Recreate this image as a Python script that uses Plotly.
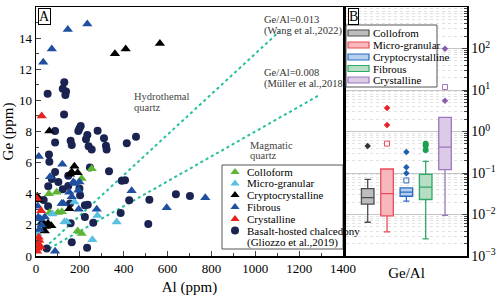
import plotly.graph_objects as go

FONT = "Liberation Serif"

# ---------------- Panel A data: Al (ppm) vs Ge (ppm) ----------------
colloform_al = [33, 254, 208, 59, 94, 63, 100, 118, 190, 208]
colloform_ge = [15.0, 5.6, 4.98, 4.0, 4.1, 2.8, 2.8, 2.85, 1.6, 1.45]

micro_al = [175, 140, 280, 368, 257, 6, 75, 130, 20]
micro_ge = [3.47, 2.18, 2.6, 2.18, 1.05, 1.45, 2.7, 2.2, 2.1]

crypto_al = [360, 409, 565, 61, 175, 163, 190, 155, 6, 10, 152, 30, 45, 55, 70, 40]
crypto_ge = [13.0, 13.3, 13.65, 8.03, 5.77, 5.4, 5.35, 5.25, 3.84, 3.6, 3.04, 2.2, 1.9, 2.1, 1.95, 1.6]

fibrous_al = [145, 234, 72, 33, 13, 120, 64, 170, 198, 178, 152, 193, 163, 436, 125, 117,
              277, 596, 772, 87, 10, 20, 25, 15, 40, 8, 195]
fibrous_ge = [14.55, 14.9, 13.3, 12.45, 6.4, 5.9, 5.1, 4.76, 4.76, 4.66, 4.1, 4.23, 3.8, 4.2, 3.37, 3.37,
              3.0, 3.1, 3.75, 0.3, 2.5, 2.4, 2.0, 1.7, 2.5, 3.2, 3.0]

crystalline_al = [26, 23, 3, 8, 10, 15, 5, 20, 12]
crystalline_ge = [9.0, 2.9, 3.7, 0.5, 0.8, 1.0, 0.3, 0.6, 1.2]

basalt_al = [53, 129, 122, 137, 134, 128, 87, 87, 204, 198, 193, 234, 228, 281, 158, 163, 240, 254,
             310, 319, 322, 414, 456, 59, 61, 246, 333, 87, 147, 72, 102, 147, 56, 198, 201, 122,
             391, 406, 425, 517, 638, 702, 155, 223, 236, 158, 223, 261, 386, 512, 163, 233, 49, 35, 55]
basalt_ge = [10.42, 11.17, 10.74, 10.57, 10.35, 9.1, 8.03, 7.3, 8.35, 8.2, 8.03, 7.77, 7.5, 8.05, 7.4, 7.13, 7.06, 6.85,
             7.56, 7.08, 6.85, 7.24, 7.67, 6.53, 6.05, 5.69, 5.45, 5.4, 5.15, 4.94, 4.76, 4.5, 4.48, 4.33, 3.9, 4.29,
             4.83, 4.87, 3.58, 3.62, 3.97, 3.86, 3.37, 3.26, 3.3, 2.1, 2.5, 2.14, 2.76, 2.05, 0.89, 0.53, 0.48, 3.6, 3.2]

# reference Ge/Al ratio lines
ratio_vals = [0.013, 0.008]
ratio_start_al = [40, 60]
ratio_end_al = [1110, 1290]

# ---------------- Panel B data: Ge/Al box statistics ----------------
box_names = ["Collofrom", "Micro-granular", "Cryptocrystalline", "Fibrous", "Crystalline"]
box_q1 = [0.0178, 0.0093, 0.0275, 0.023, 0.12]
box_median = [0.0254, 0.032, 0.0345, 0.0457, 0.42]
box_q3 = [0.042, 0.125, 0.044, 0.093, 2.2]
box_low = [0.0065, 0.0038, 0.021, 0.0026, 0.0095]
box_high = [0.070, 0.125, 0.044, 0.19, 2.2]
box_mean = [None, 0.51, 0.066, None, 11.8]
box_outliers = [[0.45], [3.7, 1.43], [0.32, 0.137, 0.098], [0.51, 0.46, 0.356], [98, 5.5]]

log_tick_vals = [1e-3, 1e-2, 1e-1, 1, 10, 100, 1000]
log_tick_text = ["10<sup>\u22123</sup>", "10<sup>\u22122</sup>", "10<sup>\u22121</sup>",
                 "10<sup>0</sup>", "10<sup>1</sup>", "10<sup>2</sup>", "10<sup>3</sup>"]
log_minor_vals = [m * d for d in [1e-3, 1e-2, 1e-1, 1, 10, 100] for m in range(2, 10)]

# styles
series_cols = {"Colloform": "#5db536", "Micro-granular": "#5bbfe2", "Cryptocrystalline": "#000000",
               "Fibrous": "#1f4fa0", "Crystalline": "#e8221c"}
navy = "#1b2451"
box_fill = ['#bdbdbd', '#f7b8bd', '#b5cfee', '#b5dec5', '#dccbe6']
box_line = ['#4d4d4d', '#ec4b57', '#2a6bc4', '#2eaa66', '#9b77be']
out_col = ['#333333', '#e8202a', '#1f5fb0', '#1aa050', '#8a5cb0']

# layout geometry (pixels)
W, H = 498, 299
ML, MR, MT, MB = 36, 31, 7, 43
PW, PH = W - ML - MR, H - MT - MB
A_RIGHT = 343  # right edge of panel A in px


def px(xp):
    return (xp - ML) / PW


def py(yp):
    return (H - MB - yp) / PH


def a_x(xp):  # pixel -> Al data units of panel A
    return (xp - ML) / (A_RIGHT - ML) * 1400


def a_y(yp):  # pixel -> Ge data units of panel A
    return (H - MB - yp) / PH * 16


fig = go.Figure()

# ratio lines
for r, a0, a1 in zip(ratio_vals, ratio_start_al, ratio_end_al):
    fig.add_trace(go.Scatter(x=[a0, a1], y=[r * a0, r * a1], mode='lines',
                             line=dict(color='#27bfa0', width=2, dash='dot'),
                             xaxis='x', yaxis='y', showlegend=False, hoverinfo='skip'))

fig.add_trace(go.Scatter(x=basalt_al, y=basalt_ge, mode='markers', name='Basalt-hosted chalcedony',
                         marker=dict(symbol='circle', size=8, color=navy), xaxis='x', yaxis='y',
                         showlegend=False))
for name, xs, ys in [("Colloform", colloform_al, colloform_ge),
                     ("Micro-granular", micro_al, micro_ge),
                     ("Cryptocrystalline", crypto_al, crypto_ge),
                     ("Fibrous", fibrous_al, fibrous_ge),
                     ("Crystalline", crystalline_al, crystalline_ge)]:
    fig.add_trace(go.Scatter(x=xs, y=ys, mode='markers', name=name,
                             marker=dict(symbol='triangle-up', size=9, color=series_cols[name]),
                             xaxis='x', yaxis='y', showlegend=False))

# Panel B boxes
for i, nm in enumerate(box_names):
    fig.add_trace(go.Box(x=[i + 1], q1=[box_q1[i]], median=[box_median[i]], q3=[box_q3[i]],
                         lowerfence=[box_low[i]], upperfence=[box_high[i]], name=nm,
                         width=0.65, whiskerwidth=0.5, fillcolor=box_fill[i],
                         line=dict(color=box_line[i], width=1.3),
                         xaxis='x2', yaxis='y2', showlegend=False))
    outs = box_outliers[i]
    fig.add_trace(go.Scatter(x=[i + 1] * len(outs), y=outs, mode='markers',
                             marker=dict(symbol='diamond' if i != 3 else 'circle',
                                         size=5 if i != 3 else 6, color=out_col[i]),
                             xaxis='x2', yaxis='y2', showlegend=False))
    if box_mean[i] is not None:
        fig.add_trace(go.Scatter(x=[i + 1], y=[box_mean[i]], mode='markers',
                                 marker=dict(symbol='square-open', size=5, color=box_line[i]),
                                 xaxis='x2', yaxis='y2', showlegend=False))

# ---------------- manual legend for panel A ----------------
leg_a_names = ["Colloform", "Micro-granular", "Cryptocrystalline", "Fibrous", "Crystalline"]
leg_a_y = [172, 183.5, 195, 207, 219]
fig.add_trace(go.Scatter(x=[a_x(235)] * 5, y=[a_y(v) for v in leg_a_y], mode='markers',
                         marker=dict(symbol='triangle-up', size=8,
                                     color=[series_cols[n] for n in leg_a_names]),
                         xaxis='x', yaxis='y', showlegend=False, hoverinfo='skip'))
fig.add_trace(go.Scatter(x=[a_x(235)], y=[a_y(230.5)], mode='markers',
                         marker=dict(symbol='circle', size=8, color=navy),
                         xaxis='x', yaxis='y', showlegend=False, hoverinfo='skip'))

annotations = []
shapes = []
shapes.append(dict(type='rect', xref='paper', yref='paper', x0=px(222), x1=px(343), y0=py(249), y1=py(165),
                   line=dict(color='#555555', width=1), fillcolor='rgba(0,0,0,0)', layer='below'))
for n, yy in zip(leg_a_names, leg_a_y):
    annotations.append(dict(text=n, x=px(245), y=py(yy), xref='paper', yref='paper', xanchor='left',
                            yanchor='middle', showarrow=False, font=dict(family=FONT, size=11, color='black')))
annotations.append(dict(text='Basalt-hosted chalcedony', x=px(245), y=py(230.5), xref='paper', yref='paper',
                        xanchor='left', yanchor='middle', showarrow=False,
                        font=dict(family=FONT, size=11, color='black')))
annotations.append(dict(text='(Gliozzo et al.,2019)', x=px(245), y=py(242), xref='paper', yref='paper',
                        xanchor='left', yanchor='middle', showarrow=False,
                        font=dict(family=FONT, size=11, color='black')))

# ---------------- manual legend for panel B ----------------
leg_b_y = [33, 45, 57, 68.5, 80]
shapes.append(dict(type='rect', xref='paper', yref='paper', x0=px(346), x1=px(437), y0=py(87), y1=py(25),
                   line=dict(color='#555555', width=1), fillcolor='white', layer='above'))
for i, (n, yy) in enumerate(zip(box_names, leg_b_y)):
    shapes.append(dict(type='rect', xref='paper', yref='paper', x0=px(348), x1=px(369), y0=py(yy + 3),
                       y1=py(yy - 3), line=dict(color=box_line[i], width=1.2), fillcolor=box_fill[i],
                       layer='above'))
    annotations.append(dict(text=n, x=px(371), y=py(yy), xref='paper', yref='paper', xanchor='left',
                            yanchor='middle', showarrow=False, font=dict(family=FONT, size=11, color='black')))


# ---------------- text annotations ----------------
def txt(t, xp, yp, size=10.5, color='#333333'):
    annotations.append(dict(text=t, x=px(xp), y=py(yp), xref='paper', yref='paper', xanchor='left',
                            yanchor='middle', showarrow=False, font=dict(family=FONT, size=size, color=color)))


txt('Hydrothemal', 132, 96, color='#444444')
txt('quartz', 132, 107, color='#444444')
txt('Ge/Al=0.013', 262, 20)
txt('(Wang et al.,2022)', 262, 31)
txt('Ge/Al=0.008', 262, 73)
txt('(M\u00fcller et al.,2018)', 262, 84)
txt('Magmatic', 248, 145, color='#444444')
txt('quartz', 248, 155, color='#444444')

for lab, xp in [('A', 37.5), ('B', 347.5)]:
    annotations.append(dict(text=lab, x=px(xp), y=py(8.5), xref='paper', yref='paper', xanchor='left',
                            yanchor='top', showarrow=False, bordercolor='black', borderwidth=1, borderpad=0,
                            bgcolor='white', font=dict(family=FONT, size=14, color='black')))

fig.update_layout(
    width=W, height=H,
    margin=dict(l=ML, r=MR, t=MT, b=MB, pad=0, autoexpand=False),
    paper_bgcolor='white', plot_bgcolor='white',
    font=dict(family=FONT, size=13, color='black'),
    showlegend=False,
    xaxis=dict(domain=[0, (A_RIGHT - ML) / PW], range=[0, 1400], tick0=0, dtick=200, ticks='inside', ticklen=5,
               tickwidth=1, showline=True, linewidth=1.5, linecolor='black', mirror=True, showgrid=False,
               zeroline=False, minor=dict(dtick=100, ticks='inside', ticklen=3, tickwidth=1),
               title=dict(text='Al (ppm)', font=dict(size=15), standoff=6),
               tickfont=dict(size=13), anchor='y', automargin=False),
    yaxis=dict(domain=[0, 1], range=[0, 16], tick0=0, dtick=2, ticks='inside', ticklen=5, tickwidth=1,
               showline=True, linewidth=1.5, linecolor='black', mirror=True, showgrid=False, zeroline=False,
               minor=dict(dtick=1, ticks='inside', ticklen=3, tickwidth=1),
               title=dict(text='Ge (ppm)', font=dict(size=15), standoff=4),
               tickfont=dict(size=13), anchor='x', automargin=False),
    xaxis2=dict(domain=[310 / PW, 1], range=[-0.123, 6.137], showticklabels=False, ticks='',
                showline=True, linewidth=1.5, linecolor='black', mirror=True, showgrid=False, zeroline=False,
                title=dict(text='Ge/Al', font=dict(size=15), standoff=11), anchor='y2', automargin=False),
    yaxis2=dict(domain=[0, 1], type='log', range=[-3, 3], side='right', anchor='x2',
                tickmode='array', tickvals=log_tick_vals, ticktext=log_tick_text, ticks='inside', ticklen=5,
                tickwidth=1, showline=True, linewidth=1.5, linecolor='black', mirror=True,
                showgrid=True, gridcolor='#c4c4c4', gridwidth=1, zeroline=False,
                minor=dict(tickmode='array', tickvals=log_minor_vals, ticks='inside', ticklen=3, tickwidth=1,
                           showgrid=True, gridcolor='#e2e2e2', griddash='dot', gridwidth=1),
                tickfont=dict(size=14), automargin=False),
    annotations=annotations,
    shapes=shapes,
)

fig.write_html("out.html", config={'displayModeBar': False, 'staticPlot': True},
               post_script="document.body.style.margin='0';document.body.style.padding='0';"
                           "document.body.style.overflow='hidden';")
